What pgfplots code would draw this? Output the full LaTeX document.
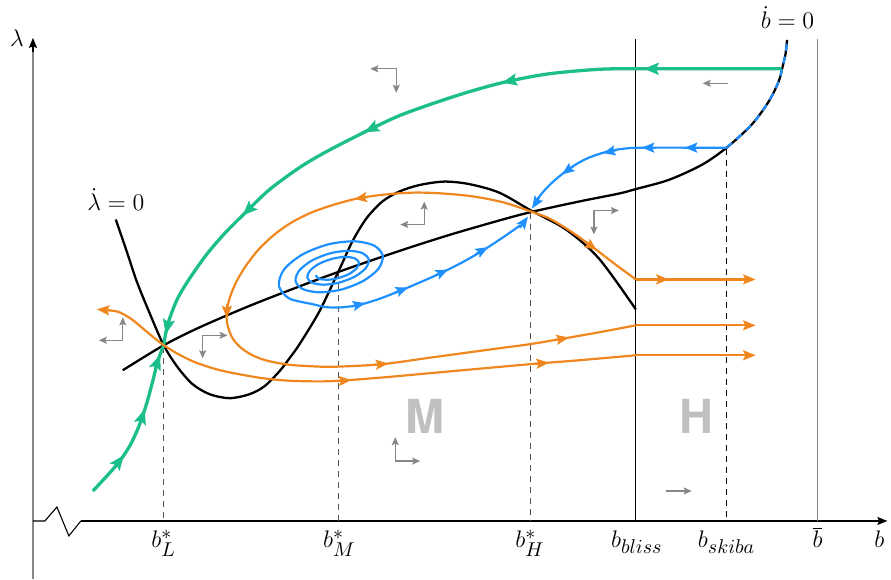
\documentclass[border=0pt]{standalone}
\usepackage{fontspec}
\usepackage{pgfplots}
\pgfplotsset{compat=1.18}
\usetikzlibrary{arrows.meta}
\newfontfamily\heros{TeX Gyre Heros}
\DeclareMathSizes{11.5}{11.5}{10}{8}
\definecolor{cgreen}{RGB}{28,190,140}
\definecolor{cblue}{RGB}{30,144,255}
\definecolor{corange}{RGB}{240,135,30}
\definecolor{cgray}{RGB}{135,135,135}
\definecolor{dgray}{RGB}{85,85,85}
\definecolor{lgray}{RGB}{192,192,192}
\tikzset{ah/.tip={Stealth[length=6.3pt,width=5pt,inset=1.2pt]},
  gh/.tip={Stealth[length=7.5pt,width=6pt,inset=1.4pt]},
  sh/.tip={Stealth[length=4pt,width=3.5pt,inset=0.75pt]},
  ax/.tip={Stealth[length=5pt,width=4pt,inset=0.75pt]},
  lab/.style={anchor=base, font=\fontsize{11.5}{14}\selectfont},
  big/.style={anchor=base, text=lgray, font=\heros\bfseries\fontsize{23.5}{24}\selectfont}}
\pgfplotsset{
  G/.style={cgreen, line width=1.65pt, smooth},
  GA/.style={cgreen, line width=1.65pt, -{gh}},
  B/.style={cblue, line width=1.1pt, smooth},
  BA/.style={cblue, line width=1.1pt, -{ah}},
  O/.style={corange, line width=1.1pt, smooth},
  OL/.style={corange, line width=1.1pt},
  OA/.style={corange, line width=1.1pt, -{ah}},
  S/.style={cgray, line width=0.65pt, -{sh}},
  K/.style={black, line width=1.15pt, smooth},
  D/.style={line width=0.6pt, dash pattern=on 3pt off 2.5pt}}
\begin{document}
\begin{tikzpicture}
\begin{axis}[scale only axis, width=445.5pt, height=289.5pt,
  xmin=0, xmax=891, ymin=0, ymax=579, y dir=reverse,
  hide axis, clip=false]
\addplot[draw=none] coordinates {(0,0) (891,579)};
% axes
\addplot[cgray, line width=0.75pt] coordinates {(33,578) (33,45)};
\addplot[black, line width=0.7pt, -{ax}] coordinates {(33,50) (33,36)};
\addplot[black, line width=0.55pt] coordinates {(33,520) (45,520) (57,506) (69,535) (81,520)};
\addplot[black, line width=0.65pt, -{ax}] coordinates {(81,520) (889,520)};
% vertical lines
\addplot[black, line width=0.55pt] coordinates {(637,37) (637,520)};
\addplot[cgray, line width=0.7pt] coordinates {(819,37) (819,520)};
% dashed
\addplot[dgray, D] coordinates {(164,346) (164,520)};
\addplot[dgray, D] coordinates {(339.2,272) (339.2,520)};
\addplot[dgray, D] coordinates {(531.7,211) (531.7,520)};
\addplot[black, D] coordinates {(728,147) (728,520)};
% lambda-dot = 0
\addplot[K] coordinates {
(116,218) (127,250) (137,280) (150,312) (164,344) (178,366) (193,383) (210,393) (230,397) (250,393) (265,385) (280,370) (290,357) (300,343) (320,310) (340,268) (353,240) (367,217) (383,200) (400,190) (420,183.5) (445,180) (470,182.5) (500,191) (532,209) (567,228) (600,257) (637,308)};
% b-dot = 0
\addplot[K] coordinates {
(123,369) (164,344) (200,326) (250,304.5) (300,285) (339,270.5) (400,249.5) (450,233.5) (500,219) (532,210.5) (580,200) (620,192) (637,187.5) (670,178.3) (703,163.3) (728,146) (753,123) (770,100) (780,80) (784,65) (787,52) (788.5,38)};
\addplot[B, dash pattern=on 3.5pt off 3pt] coordinates {
(728,146) (753,123) (770,100) (780,80) (784,65) (787,52) (788.5,38)};
% green trajectories
\addplot[G] coordinates {
(783,67) (700,67) (637,67) (600,67.5) (550,72) (507,80) (470,90) (433,102) (400,114) (370,128) (327,150) (300,166) (270,188) (247,210) (225,232) (207,253) (190,277) (178,297) (170,317) (166,332) (164,344)};
\addplot[GA] coordinates {(659,67) (645,67)};
\addplot[GA] coordinates {(516.7,77.9) (503,81)};
\addplot[GA] coordinates {(377.6,124.4) (365,130.6)};
\addplot[GA] coordinates {(253,204.2) (243,214)};
\addplot[GA] coordinates {(169,319.3) (166,333)};
\addplot[G] coordinates {
(93,490) (107,475) (120,460) (131,443) (140,423) (147,402) (153,380) (158,360) (164,344)};
\addplot[GA] coordinates {(115.6,465.2) (124,454)};
\addplot[GA] coordinates {(140.6,421.3) (145,408)};
\addplot[GA] coordinates {(155.6,366.6) (160.5,353.5)};
% blue trajectories
\addplot[B] coordinates {
(728,146) (690,146) (650,146) (630,146.5) (610,149.5) (590,156) (575,164) (560,175) (548,186) (538,198) (536,202)};
\addplot[BA] coordinates {(700,146) (686,146)};
\addplot[BA] coordinates {(657,146) (643,146)};
\addplot[BA] coordinates {(617.7,148.4) (604,151.5)};
\addplot[BA] coordinates {(574.3,164.5) (563,172.8)};
\addplot[BA] coordinates {(540.3,195.8) (533,207)};
\addplot[B] coordinates {
(316.2,273.7) (319.5,277.2) (327.6,278.4) (338.5,276.8) (349.4,272.7) (357.2,267.0) (359.6,261.2) (355.6,257.0) (345.9,255.4) (332.9,257.3) (320.0,262.2) (310.7,269.0) (307.9,276.1) (312.7,281.3) (324.3,283.3) (339.8,281.2) (355.2,275.3) (366.2,267.0) (369.5,258.4) (363.7,251.9) (349.8,249.3) (331.3,251.7) (313.0,258.8) (300.0,268.9) (296.1,279.5) (303.1,287.6) (319.7,290.9) (341.8,288.2) (363.6,279.7) (379.1,267.4) (383.5,254.4) (375.0,244.2) (355.2,239.8) (328.8,242.9) (302.8,253.1) (284.5,268.1) (279.4,284.3) (289.8,297.1) (313.6,302.9) (327,305.8) (342,306) (360,303.5) (380,297.5) (403,288.5) (423,280) (443,271) (463,261) (483,249.5) (503,236.5) (521,224)};
\addplot[BA] coordinates {(352.4,305) (366,301.7)};
\addplot[BA] coordinates {(396.1,291) (409,286)};
\addplot[BA] coordinates {(436.4,274) (449,268)};
\addplot[BA] coordinates {(476.8,252.6) (489,245.6)};
\addplot[BA] coordinates {(520.8,226.3) (529,215)};
% orange trajectories
\addplot[O] coordinates {
(164,344) (155,337) (143,327) (132,318) (120,311) (110,309) (104,308.5)};
\addplot[OA] coordinates {(111,309.1) (97,308)};
\addplot[O] coordinates {
(164,344) (178,352.5) (193,360) (210,366) (227,370.5) (260,376.5) (290,379.5) (330,380) (380,376.5) (430,372) (480,367.5) (530,363) (580,359) (637,354)};
\addplot[OL] coordinates {(637,354) (750,354)};
\addplot[OA] coordinates {(338,379.8) (352,378.9)};
\addplot[OA] coordinates {(536,362.6) (550,361.4)};
\addplot[OA] coordinates {(743,354) (757,354)};
\addplot[O] coordinates {
(532,210) (505,201) (475,195) (445,192) (417,191) (390,192.5) (360,196.5) (335,203) (312,211) (292,221) (275,233) (260,247) (248,262) (238,278) (231,294) (227,310) (228,324) (233,337) (242,347) (255,355) (270,360) (290,363.5) (312,365) (335,365.5) (382,363) (430,356.5) (463,352) (500,347) (530,343) (563,337.5) (600,331) (637,324)};
\addplot[OL] coordinates {(637,324) (750,324)};
\addplot[OA] coordinates {(368.8,195.3) (355,197.5)};
\addplot[OA] coordinates {(227.3,303) (227.3,317)};
\addplot[OA] coordinates {(375,363.6) (389,362.2)};
\addplot[OA] coordinates {(556.2,338.7) (570,336.3)};
\addplot[OA] coordinates {(743,324) (757,324)};
\addplot[O] coordinates {
(532,210) (550,216.7) (567,226.7) (580,235.5) (593,245) (617,263.3) (637,278)};
\addplot[OL] coordinates {(637,278) (750,278)};
\addplot[OA] coordinates {(586.7,240.5) (598,248.8)};
\addplot[OA] coordinates {(656,278) (670,278)};
\addplot[OA] coordinates {(743,278) (757,278)};
% small direction arrows
\addplot[S] coordinates {(397,67) (371,67)};
\addplot[S] coordinates {(397,66.4) (397,91)};
\addplot[S] coordinates {(729,81.5) (704,81.5)};
\addplot[S] coordinates {(425,223) (401,223)};
\addplot[S] coordinates {(425,223.6) (425,200)};
\addplot[S] coordinates {(594.4,209) (620,209)};
\addplot[S] coordinates {(595,208.4) (595,233)};
\addplot[S] coordinates {(123,339) (99,339)};
\addplot[S] coordinates {(123,339.6) (123,316)};
\addplot[S] coordinates {(202.4,334) (228,334)};
\addplot[S] coordinates {(203,333.4) (203,357)};
\addplot[S] coordinates {(396,460.6) (396,436)};
\addplot[S] coordinates {(395.4,460) (421,460)};
\addplot[S] coordinates {(667,490) (693,490)};
% labels
\node[lab] at (axis cs:17,45) {$\lambda$};
\node[lab] at (axis cs:789,27) {$\dot b = 0$};
\node[lab] at (axis cs:116,209) {$\dot \lambda = 0$};
\node[lab] at (axis cs:164,547) {$b_L^*$};
\node[lab] at (axis cs:340,547) {$b_M^*$};
\node[lab] at (axis cs:531,547) {$b_H^*$};
\node[lab] at (axis cs:638,547) {$b_{bliss}$};
\node[lab] at (axis cs:728,547) {$b_{skiba}$};
\node[lab] at (axis cs:819,547) {$\overline{b}$};
\node[lab] at (axis cs:881,547) {$b$};
\node[big] at (axis cs:426,432) {M};
\node[big] at (axis cs:698,432) {H};
\end{axis}
\end{tikzpicture}
\end{document}
